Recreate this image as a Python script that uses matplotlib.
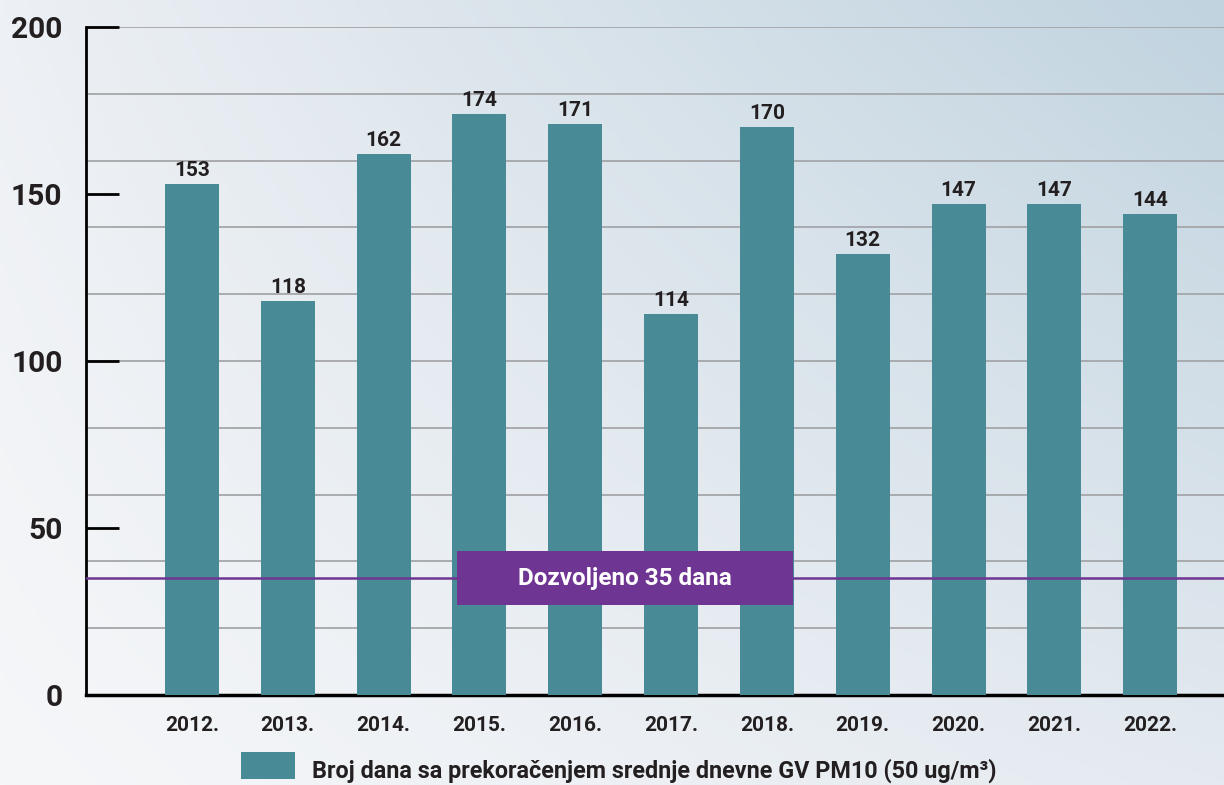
import numpy as np
import matplotlib
matplotlib.use("Agg")
import matplotlib.pyplot as plt
from matplotlib.patches import Rectangle

plt.rcParams['font.family'] = ['Roboto', 'DejaVu Sans']

years = ["2012.", "2013.", "2014.", "2015.", "2016.", "2017.", "2018.", "2019.", "2020.", "2021.", "2022."]
days = [153, 118, 162, 174, 171, 114, 170, 132, 147, 147, 144]
limit_value = 35
limit_label = "Dozvoljeno 35 dana"
legend_label = "Broj dana sa prekoračenjem srednje dnevne GV PM10 (50 ug/m³)"
y_major = [0, 50, 100, 150, 200]
y_grid = [20, 40, 60, 80, 100, 120, 140, 160, 180, 200]

bar_color = "#488a96"
purple = "#6f3592"
text_color = "#231f20"

W, H = 1224, 785
fig = plt.figure(figsize=(W / 100, H / 100), dpi=100)

# background gradient
bg = fig.add_axes([0, 0, 1, 1], zorder=-10)
ny, nx = 200, 300
xx, yy = np.meshgrid(np.linspace(0, 1, nx), np.linspace(0, 1, ny))
c_tl = np.array([0xed, 0xf0, 0xf4]) / 255
c_tr = np.array([0xc0, 0xd3, 0xdf]) / 255
c_bl = np.array([0xf6, 0xf7, 0xf9]) / 255
c_br = np.array([0xe4, 0xea, 0xf0]) / 255
img = (c_tl[None, None, :] * ((1 - xx) * (1 - yy))[..., None]
       + c_tr[None, None, :] * (xx * (1 - yy))[..., None]
       + c_bl[None, None, :] * ((1 - xx) * yy)[..., None]
       + c_br[None, None, :] * (xx * yy)[..., None])
bg.imshow(img, aspect='auto', extent=[0, 1, 0, 1], origin='upper')
bg.axis('off')

ax = fig.add_axes([86 / W, (H - 695) / H, 1 - 86 / W, (695 - 27) / H])
ax.patch.set_alpha(0)

x = np.arange(len(years))
ax.set_xlim(-1.106, 10.77)
ax.set_ylim(0, 200)

for g in y_grid:
    ax.axhline(g, color="#a4a6a9", lw=1.3, zorder=0.5)

ax.bar(x, days, width=0.564, color=bar_color, zorder=3)
for xi, v in zip(x, days):
    ax.text(xi, v + 1.2, str(v), ha='center', va='bottom', fontsize=15,
            fontweight='bold', color=text_color, zorder=5)

ax.axhline(limit_value, color=purple, lw=1.8, zorder=4)
ax.add_patch(Rectangle((2.766, 26.9), 6.27 - 2.766, 43.1 - 26.9,
                       facecolor=purple, edgecolor='none', zorder=6))
ax.text((2.766 + 6.27) / 2, 35, limit_label, ha='center', va='center',
        fontsize=17.5, fontweight='bold', color='white', zorder=7)

for s in ['top', 'right']:
    ax.spines[s].set_visible(False)
ax.spines['left'].set_linewidth(2)
ax.spines['bottom'].set_linewidth(2.5)
ax.spines['bottom'].set_zorder(2)

ax.set_yticks(y_major)
ax.set_yticklabels([str(v) for v in y_major])
ax.tick_params(axis='y', direction='in', length=24, width=2, pad=17,
               labelsize=21.5, labelcolor=text_color)
for lab in ax.get_yticklabels():
    lab.set_fontweight('bold')

ax.set_xticks(x)
ax.set_xticklabels(years)
ax.tick_params(axis='x', length=0, pad=15, labelsize=15, labelcolor=text_color)
for lab in ax.get_xticklabels():
    lab.set_fontweight('bold')

# legend
fig.patches.append(Rectangle((241 / W, (H - 779) / H), 54 / W, 27 / H,
                             transform=fig.transFigure, facecolor=bar_color,
                             edgecolor='none'))
fig.text(312 / W, (H - 771) / H, legend_label, ha='left', va='center',
         fontsize=16.8, fontweight='bold', color=text_color)

fig.savefig("out.png", dpi=100)
